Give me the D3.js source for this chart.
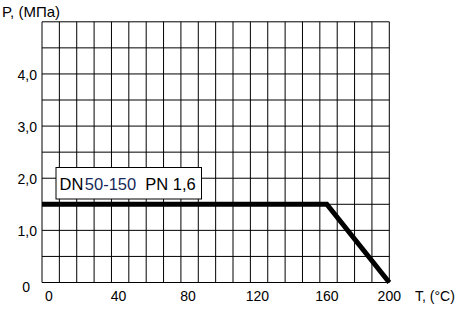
<!DOCTYPE html>
<html>
<head>
	<script src="https://cdnjs.cloudflare.com/ajax/libs/d3/7.8.5/d3.min.js"></script>
	<style>
		body { margin: 0; background: white; }
		text {
			font-family: "Liberation Sans", Arial, sans-serif;
			fill: black;
		}
		.grid line { stroke: black; stroke-width: 1; }
	</style>
</head>
<body>
	<svg id="main" width="465" height="316"></svg>

	<script>
		// pressure vs temperature limit (DN 50-150, PN 1,6)
		var tempPoints = [0, 164, 200];
		var pressPoints = [1.5, 1.5, 0];

		var xTicks = [0, 40, 80, 120, 160, 200];
		var yTicks = [0, 1, 2, 3, 4];
		var yTickLabels = ['0', '1,0', '2,0', '3,0', '4,0'];

		var xGrid = d3.range(0, 201, 10);
		var yGrid = d3.range(0, 5.01, 0.5);

		var legendParts = ['DN', '50-150', 'PN 1,6'];

		var svg = d3.select('#main');

		var x = d3.scaleLinear().domain([0, 200]).range([42, 389.3]);
		var y = d3.scaleLinear().domain([0, 5]).range([282.5, 21.8]);

		// grid
		var grid = svg.append('g').attr('class', 'grid');
		grid.selectAll('line.v').data(xGrid).enter().append('line')
			.attr('class', 'v')
			.attr('x1', function(d) { return x(d); })
			.attr('x2', function(d) { return x(d); })
			.attr('y1', y(0))
			.attr('y2', y(5));
		grid.selectAll('line.h').data(yGrid).enter().append('line')
			.attr('class', 'h')
			.attr('x1', x(0))
			.attr('x2', x(200))
			.attr('y1', function(d) { return y(d); })
			.attr('y2', function(d) { return y(d); });

		// legend box
		var lg = svg.append('g');
		lg.append('rect')
			.attr('x', 56).attr('y', 167.5)
			.attr('width', 145.5).attr('height', 31.5)
			.attr('fill', 'white').attr('stroke', 'black').attr('stroke-width', 1);
		var lt = lg.append('text')
			.attr('x', 59.5).attr('y', 189.5)
			.style('font-size', '16.5px');
		lt.append('tspan').text(legendParts[0]);
		lt.append('tspan').attr('dx', 1.5).attr('fill', '#17295a').text(legendParts[1]);
		lt.append('tspan').attr('dx', 9).text(legendParts[2]);

		// limit line
		var line = d3.line()
			.x(function(d, i) { return x(tempPoints[i]); })
			.y(function(d, i) { return y(pressPoints[i]); });

		svg.append('path')
			.datum(tempPoints)
			.attr('d', line)
			.attr('fill', 'none')
			.attr('stroke', 'black')
			.attr('stroke-width', 5)
			.attr('stroke-linejoin', 'miter');

		// x labels
		svg.selectAll('text.xt').data(xTicks).enter().append('text')
			.attr('class', 'xt')
			.attr('x', function(d, i) { return x(d) + (i === xTicks.length - 1 ? 0 : 7); })
			.attr('y', 301)
			.attr('text-anchor', 'middle')
			.style('font-size', '14px')
			.text(function(d) { return d; });

		// y labels
		svg.selectAll('text.yt').data(yTicks).enter().append('text')
			.attr('class', 'yt')
			.attr('x', function(d) { return d === 0 ? 30 : 37; })
			.attr('y', function(d) { return y(d) + (d === 0 ? 9.5 : 6); })
			.attr('text-anchor', 'end')
			.style('font-size', '14px')
			.text(function(d, i) { return yTickLabels[i]; });

		// axis titles
		svg.append('text')
			.attr('x', 2).attr('y', 17)
			.style('font-size', '15px')
			.text('P, (МПа)');
		svg.append('text')
			.attr('x', 415).attr('y', 301)
			.style('font-size', '14px')
			.text('T, (°C)');
	</script>
</body>
</html>
